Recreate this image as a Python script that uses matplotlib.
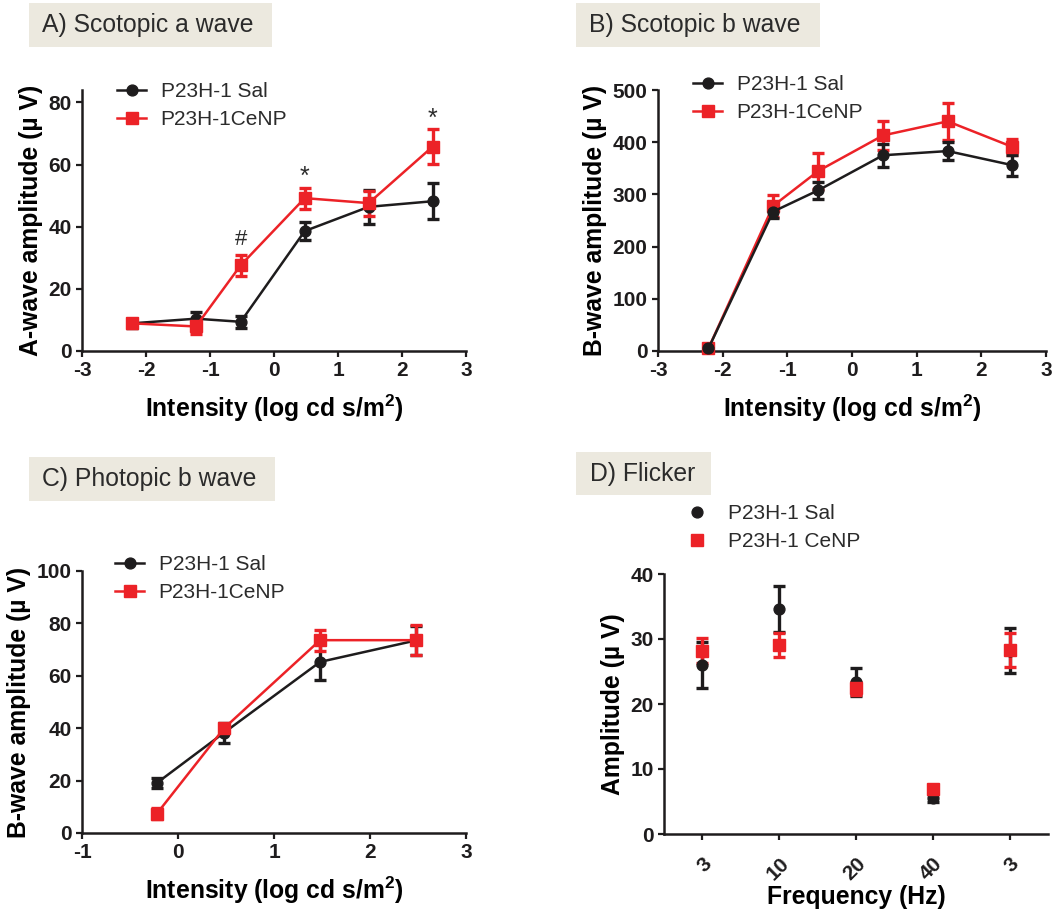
import numpy as np
import matplotlib
matplotlib.use("Agg")
import matplotlib.pyplot as plt
from matplotlib.patches import Rectangle

plt.rcParams['font.family'] = ['Liberation Sans', 'DejaVu Sans']
plt.rcParams['mathtext.fontset'] = 'custom'
plt.rcParams['mathtext.rm'] = 'Liberation Sans:bold'
plt.rcParams['mathtext.bf'] = 'Liberation Sans:bold'
plt.rcParams['axes.unicode_minus'] = False

BLACK = '#1e1c1d'
RED = '#ec2227'
BOX = '#ece9df'

# ---- data ----
# A) Scotopic a wave
a_x = [-2.22, -1.22, -0.52, 0.48, 1.48, 2.48]
a_sal = [8.9, 10.4, 9.4, 38.6, 46.4, 48.2]
a_sal_err = [1.5, 2.0, 2.0, 3.0, 5.5, 5.8]
a_cenp = [8.9, 7.9, 27.6, 49.2, 47.6, 65.8]
a_cenp_err = [1.5, 2.5, 3.4, 3.4, 4.0, 5.6]

# B) Scotopic b wave
b_x = [-2.22, -1.22, -0.52, 0.48, 1.48, 2.48]
b_sal = [5, 267, 308, 375, 383, 356]
b_sal_err = [2, 12, 16, 22, 18, 20]
b_cenp = [5, 278, 345, 413, 440, 391]
b_cenp_err = [2, 21, 34, 28, 36, 16]

# C) Photopic b wave
c_x = [-0.22, 0.48, 1.48, 2.48]
c_sal = [19.1, 38.3, 65.3, 73.5]
c_sal_err = [2.0, 3.8, 7.0, 5.5]
c_cenp = [7.4, 40.0, 73.6, 73.6]
c_cenp_err = [2.0, 1.2, 4.0, 5.6]

# D) Flicker
d_labels = ['3', '10', '20', '40', '3']
d_sal = [26.0, 34.6, 23.4, 5.6, 28.2]
d_sal_err = [3.6, 3.5, 2.2, 0.6, 3.5]
d_cenp = [28.2, 29.1, 22.4, 7.0, 28.3]
d_cenp_err = [1.9, 1.9, 1.0, 0.5, 2.6]

W, H = 1059, 911
fig = plt.figure(figsize=(W / 100, H / 100), dpi=100)


def px_axes(l, t, r, b):
    return fig.add_axes([l / W, 1 - b / H, (r - l) / W, (b - t) / H])


def title_box(x0, y0, x1, y1, tx, text):
    fig.add_artist(Rectangle((x0 / W, 1 - y1 / H), (x1 - x0) / W, (y1 - y0) / H,
                             transform=fig.transFigure, facecolor=BOX,
                             edgecolor='none', zorder=0))
    fig.text(tx / W, 1 - (y0 + y1) / 2 / H, text, fontsize=17.8, color='#2b2b2b',
             ha='left', va='center')


def style(ax):
    for s in ['top', 'right']:
        ax.spines[s].set_visible(False)
    for s in ['left', 'bottom']:
        ax.spines[s].set_linewidth(1.8)
        ax.spines[s].set_color(BLACK)
    ax.tick_params(direction='out', length=4.5, width=1.6, colors=BLACK,
                   labelsize=15, pad=3)
    for lab in ax.get_xticklabels() + ax.get_yticklabels():
        lab.set_fontweight('bold')


def series(ax, x, y, err, color, marker, ms, label, line=True):
    ax.errorbar(x, y, yerr=err, fmt='none', ecolor=color, elinewidth=2.4,
                capsize=4.2, capthick=2.4, zorder=3, clip_on=False)
    ax.plot(x, y, color=color, lw=1.8 if line else 0, marker=marker, ms=ms,
            label=label, zorder=4, clip_on=False,
            linestyle='-' if line else 'none')


def legend(ax, left, top, hl=1.4, tp=0.7, order=None):
    h, l = ax.get_legend_handles_labels()
    if order is not None:
        h = [h[i] for i in order]
        l = [l[i] for i in order]
    leg = ax.legend(h, l, loc='upper left', bbox_to_anchor=(left / W, 1 - top / H),
                    bbox_transform=fig.transFigure, frameon=False, fontsize=15,
                    handlelength=hl, handletextpad=tp, labelspacing=0.45,
                    borderpad=0, borderaxespad=0)
    for t in leg.get_texts():
        t.set_color('#2b2b2b')
    return leg


xlab = 'Intensity (log cd s/m$^{2}$)'
LFS = 17.8

# ---- A ----
axA = px_axes(82, 90, 466, 351)
series(axA, a_x, a_sal, a_sal_err, BLACK, 'o', 7.8, 'P23H-1 Sal')
series(axA, a_x, a_cenp, a_cenp_err, RED, 's', 8.3, 'P23H-1CeNP')
axA.set_xlim(-3, 3)
axA.set_ylim(0, 84)
axA.set_xticks(range(-3, 4))
axA.set_yticks(range(0, 81, 20))
axA.set_xlabel(xlab, fontsize=LFS, fontweight='bold', labelpad=9)
axA.set_ylabel('A-wave amplitude (µ V)', fontsize=LFS, fontweight='bold', labelpad=4)
style(axA)
legend(axA, 117, 82)
axA.text(-0.52, 35.8, '#', fontsize=16, ha='center', va='center', color='#2b2b2b')
axA.text(0.48, 56.0, '*', fontsize=18, ha='center', va='center', color='#2b2b2b')
axA.text(2.48, 74.8, '*', fontsize=18, ha='center', va='center', color='#2b2b2b')
title_box(29, 3, 272, 47, 42, 'A) Scotopic a wave')

# ---- B ----
axB = px_axes(658, 90, 1046, 351)
series(axB, b_x, b_cenp, b_cenp_err, RED, 's', 8.3, 'P23H-1CeNP')
series(axB, b_x, b_sal, b_sal_err, BLACK, 'o', 7.8, 'P23H-1 Sal')
axB.set_xlim(-3, 3)
axB.set_ylim(0, 500)
axB.set_xticks(range(-3, 4))
axB.set_yticks(range(0, 501, 100))
axB.set_xlabel(xlab, fontsize=LFS, fontweight='bold', labelpad=9)
axB.set_ylabel('B-wave amplitude (µ V)', fontsize=LFS, fontweight='bold', labelpad=4)
style(axB)
legend(axB, 693, 75, order=[1, 0])
title_box(576, 3, 820, 47, 589, 'B) Scotopic b wave')

# ---- C ----
axC = px_axes(82, 571, 466, 833)
series(axC, c_x, c_sal, c_sal_err, BLACK, 'o', 7.8, 'P23H-1 Sal')
series(axC, c_x, c_cenp, c_cenp_err, RED, 's', 8.3, 'P23H-1CeNP')
axC.set_xlim(-1, 3)
axC.set_ylim(0, 100)
axC.set_xticks(range(-1, 4))
axC.set_yticks(range(0, 101, 20))
axC.set_xlabel(xlab, fontsize=LFS, fontweight='bold', labelpad=9)
axC.set_ylabel('B-wave amplitude (µ V)', fontsize=LFS, fontweight='bold', labelpad=4)
style(axC)
legend(axC, 115, 555)
title_box(29, 457, 275, 501, 42, 'C) Photopic b wave')

# ---- D ----
axD = px_axes(664, 574, 1048, 834)
dx = np.arange(len(d_labels))
series(axD, dx, d_sal, d_sal_err, BLACK, 'o', 7.8, 'P23H-1 Sal', line=False)
series(axD, dx, d_cenp, d_cenp_err, RED, 's', 8.3, 'P23H-1 CeNP', line=False)
axD.set_xlim(-0.5, 4.5)
axD.set_ylim(0, 40)
axD.set_xticks(dx)
axD.set_xticklabels(d_labels, rotation=45, ha='right', rotation_mode='anchor')
axD.set_yticks(range(0, 41, 10))
axD.set_xlabel('Frequency (Hz)', fontsize=LFS, fontweight='bold')
axD.xaxis.set_label_coords(0.5, (834 - 897) / 260)
axD.xaxis.label.set_va('center')
axD.set_ylabel('Amplitude (µ V)', fontsize=LFS, fontweight='bold', labelpad=4)
style(axD)
axD.tick_params(axis='x', pad=10)
legend(axD, 687, 504, hl=1.0, tp=0.95)
title_box(576, 452, 711, 495, 590, 'D) Flicker')

fig.savefig('out.png', dpi=100)
